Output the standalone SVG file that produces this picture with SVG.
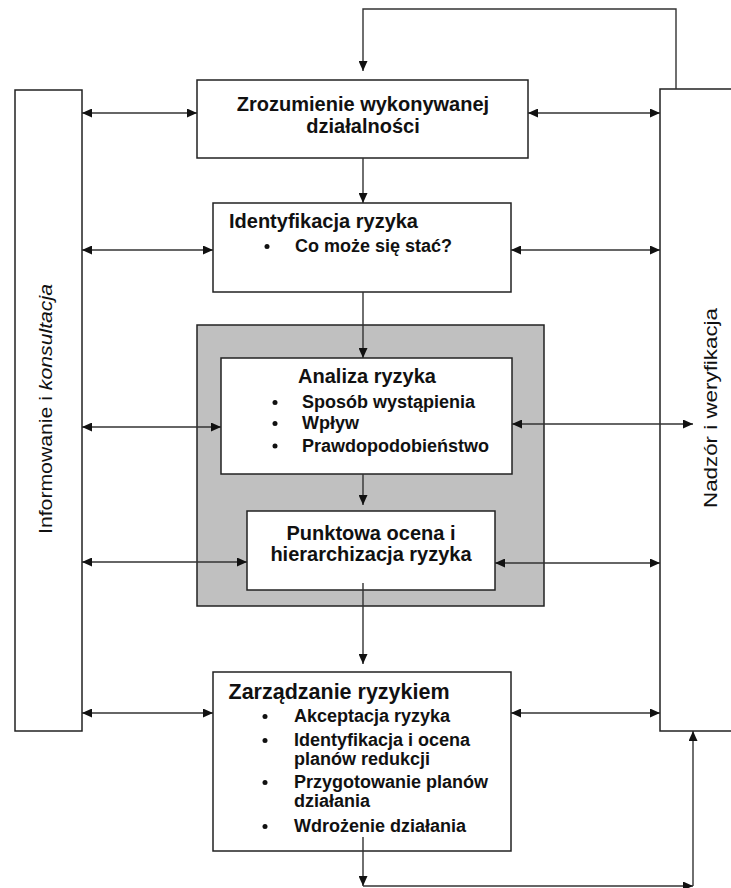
<svg xmlns="http://www.w3.org/2000/svg" width="731" height="888" viewBox="0 0 731 888">
<defs>
<marker id="ah" viewBox="0 0 10 9" refX="10" refY="4.5" markerWidth="10" markerHeight="9" markerUnits="userSpaceOnUse" orient="auto-start-reverse"><path d="M0,0 L10,4.5 L0,9 z" fill="#111"/></marker>
<style>
.box{fill:#fff;stroke:#222;stroke-width:1.5}
.gray{fill:#c0c0c0;stroke:#222;stroke-width:1.5}
.ln{fill:none;stroke:#333;stroke-width:1.4}
.arr{marker-end:url(#ah)}
.dbl{marker-start:url(#ah);marker-end:url(#ah)}
.t{font-family:"Liberation Sans",Arial,sans-serif;font-weight:bold;fill:#111}
.h{font-size:20px}
.b{font-size:18px}
.side{font-family:"Liberation Sans",Arial,sans-serif;font-size:19px;fill:#111}
.dot{fill:#111}
</style>
</defs>
<rect x="0" y="0" width="731" height="888" fill="#fff"/>

<g id="informowanie">
<rect class="box" x="15" y="90" width="67" height="641"/>
<text class="side" transform="translate(52,409) rotate(-90)" text-anchor="middle" textLength="250" lengthAdjust="spacingAndGlyphs">Informowanie i <tspan font-style="italic">konsultacja</tspan></text>
</g>

<g id="nadzor">
<rect class="box" x="660" y="89" width="80" height="642"/>
<text class="side" transform="translate(717,408) rotate(-90)" text-anchor="middle" textLength="200" lengthAdjust="spacingAndGlyphs">Nadzór i weryfikacja</text>
</g>

<g id="zrozumienie">
<rect class="box" x="197" y="80" width="331" height="78"/>
<text class="t h" x="363" y="111" text-anchor="middle">Zrozumienie wykonywanej</text>
<text class="t h" x="363" y="133" text-anchor="middle">działalności</text>
</g>

<g id="identyfikacja">
<rect class="box" x="213" y="203" width="298" height="89"/>
<text class="t h" x="229" y="228">Identyfikacja ryzyka</text>
<circle class="dot" cx="267" cy="246.5" r="2.5"/>
<text class="t b" x="295" y="252">Co może się stać?</text>
</g>

<g id="ocena">
<rect class="gray" x="197" y="325" width="347" height="281"/>
</g>

<g id="analiza">
<rect class="box" x="221" y="358" width="291" height="116"/>
<text class="t h" x="367" y="383" text-anchor="middle">Analiza ryzyka</text>
<circle class="dot" cx="275" cy="402.5" r="2.5"/>
<circle class="dot" cx="275" cy="423.5" r="2.5"/>
<circle class="dot" cx="275" cy="446" r="2.5"/>
<text class="t b" x="302" y="408">Sposób wystąpienia</text>
<text class="t b" x="302" y="429">Wpływ</text>
<text class="t b" x="302" y="451.5">Prawdopodobieństwo</text>
</g>

<g id="punktowa">
<rect class="box" x="247" y="511" width="248" height="79"/>
<text class="t h" x="371" y="540" text-anchor="middle">Punktowa ocena i</text>
<text class="t h" x="371" y="561" text-anchor="middle">hierarchizacja ryzyka</text>
</g>

<g id="zarzadzanie">
<rect class="box" x="213" y="672" width="298" height="179"/>
<text class="t" x="228.5" y="699" font-size="21.5">Zarządzanie ryzykiem</text>
<circle class="dot" cx="265" cy="716.5" r="2.5"/>
<circle class="dot" cx="265" cy="740.5" r="2.5"/>
<circle class="dot" cx="265" cy="782.5" r="2.5"/>
<circle class="dot" cx="265" cy="826.5" r="2.5"/>
<text class="t b" x="294" y="722">Akceptacja ryzyka</text>
<text class="t b" x="294" y="746">Identyfikacja i ocena</text>
<text class="t b" x="294" y="765">planów redukcji</text>
<text class="t b" x="294" y="788">Przygotowanie planów</text>
<text class="t b" x="294" y="807">działania</text>
<text class="t b" x="294" y="832">Wdrożenie działania</text>
</g>

<g id="connectors">
<path class="ln arr" d="M676,89 V9 H363 V71"/>
<path class="ln arr" d="M363,158 V203"/>
<path class="ln arr" d="M363,292 V358"/>
<path class="ln arr" d="M363,474 V505"/>
<path class="ln arr" d="M363,583 V664"/>
<path class="ln arr" d="M363,837 V886"/>
<path class="ln arr" d="M363,886 H693"/>
<path class="ln arr" d="M693,886 V731"/>
<path class="ln dbl" d="M82,113 H197"/>
<path class="ln dbl" d="M528,113 H660"/>
<path class="ln dbl" d="M82,250 H213"/>
<path class="ln dbl" d="M511,250 H660"/>
<path class="ln dbl" d="M82,427 H221"/>
<path class="ln dbl" d="M512,424 H693"/>
<path class="ln dbl" d="M82,562 H247"/>
<path class="ln dbl" d="M495,563 H660"/>
<path class="ln dbl" d="M82,713 H213"/>
<path class="ln dbl" d="M511,713 H660"/>
</g>
</svg>
